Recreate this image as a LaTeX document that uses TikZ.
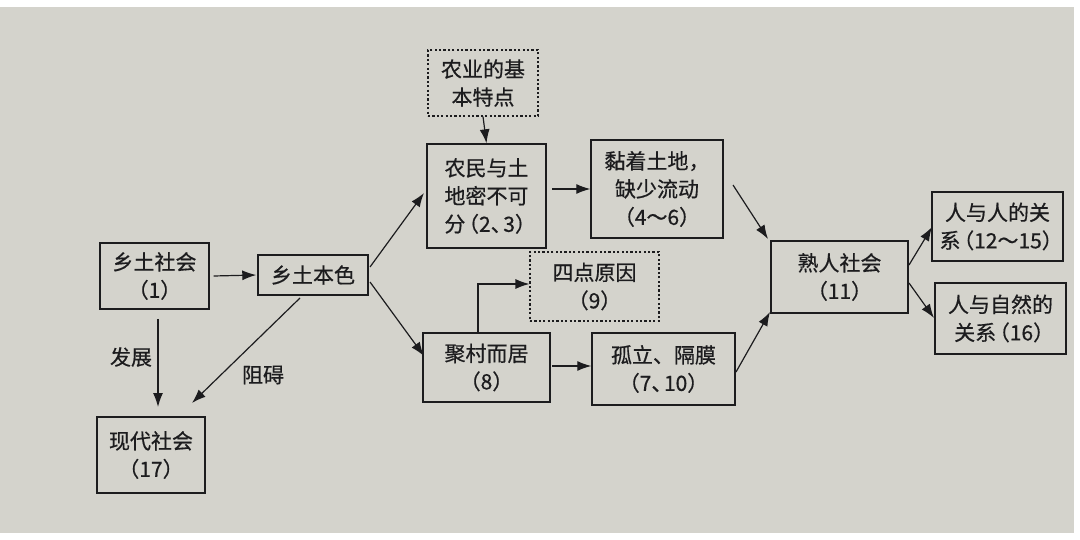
\documentclass[tikz,border=0pt]{standalone}
\usepackage{fontspec}
\newfontfamily\cjk[FakeBold=0.6]{Noto Sans CJK SC}
\usetikzlibrary{arrows.meta}
\definecolor{paper}{RGB}{212,211,204}
\definecolor{ink}{RGB}{28,28,30}
\newcommand{\lpar}{\kern-0.35em（}
\newcommand{\rpar}{）\kern-0.35em}
\newcommand{\dun}{、\kern-0.4em}
\tikzset{
  box/.style={draw=ink, line width=1.4pt, rectangle, inner sep=0pt, align=center,
    font=\cjk\fontsize{21pt}{28pt}\selectfont, text=ink},
  dbox/.style={box, line width=1.1pt, dash pattern=on 2.2pt off 2.2pt},
  arr/.style={draw=ink, line width=1.2pt, -{Latex[length=14pt,width=10pt]}},
  lbl/.style={font=\cjk\fontsize{21pt}{28pt}\selectfont, text=ink, inner sep=0pt}
}
\begin{document}
\begin{tikzpicture}[x=1pt,y=-1pt]
\useasboundingbox (0,0) rectangle (1080,540);
\fill[white] (0,0) rectangle (1080,540);
\fill[paper] (0,7) rectangle (1074,533);

\node[box, minimum width=109pt, minimum height=66pt] (n1) at (154.5,276) {乡土社会\\（1）};
\node[box, minimum width=110pt, minimum height=40pt] (n2) at (313,275) {乡土本色};
\node[box, minimum width=108pt, minimum height=76pt] (n3) at (151,455) {现代社会\\（17）};
\node[dbox, minimum width=110pt, minimum height=66pt] (n4) at (483,83) {农业的基\\本特点};
\node[box, minimum width=119pt, minimum height=104pt] (n5) at (486.5,196) {农民与土\\地密不可\\分\lpar 2\dun 3\rpar};
\node[box, minimum width=132pt, minimum height=98pt] (n6) at (657,189) {黏着土地，\\缺少流动\\（4～6）};
\node[dbox, minimum width=129pt, minimum height=69pt] (n7) at (594.5,286.5) {四点原因\\（9）};
\node[box, minimum width=127pt, minimum height=69pt] (n8) at (486.5,367.5) {聚村而居\\（8）};
\node[box, minimum width=143pt, minimum height=72pt] (n9) at (663.5,369) {孤立、隔膜\\（7\dun 10）};
\node[box, minimum width=137pt, minimum height=72pt] (n10) at (839.5,277) {熟人社会\\（11）};
\node[box, minimum width=131pt, minimum height=69pt] (n11) at (997.5,226.5) {人与人的关\\系\lpar 12～15\rpar};
\node[box, minimum width=131pt, minimum height=71pt] (n12) at (1000.5,318.5) {人与自然的\\关系\lpar 16\rpar};

\coordinate (c1) at (478,284);

\draw[arr] ([xshift=4pt]n1.east) -- ([xshift=-1pt]n2.west);
\draw[arr] (158,319) -- (158,407);
\node[lbl] (l1) at (131,357) {发展};
\draw[arr] (300,298) -- (192,403);
\node[lbl] (l2) at (263,375) {阻碍};
\draw[arr] (370,267) -- (424,193);
\draw[arr] (370,282) -- (424,356);
\draw[arr] (n4.south) -- (n5.north);
\draw[arr] (552,189) -- (n6.west);
\draw[arr] (733,185) -- (768,239);
\draw[arr] (n8.north -| c1) -- (c1) -- (n7.west |- c1);
\draw[arr] (552,366) -- (n9.west |- 0,366);
\draw[arr] (736,372) -- (770,312);
\draw[arr] (909,265) -- (932,227);
\draw[arr] (909,283) -- (934,318);
\end{tikzpicture}
\end{document}
